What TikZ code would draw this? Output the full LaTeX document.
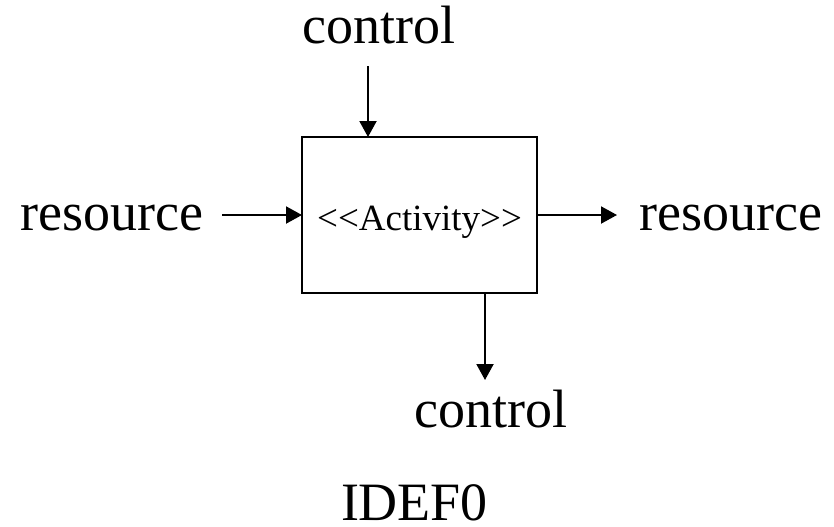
\documentclass[tikz,border=0pt]{standalone}
\usepackage{fontspec}
\setmainfont{Liberation Serif}
\usetikzlibrary{arrows.meta}

\tikzset{
  flow/.style={line width=1pt, -{Triangle[length=8pt,width=8.5pt]}},
  activitybox/.style={draw, line width=1pt, outer sep=0pt, inner sep=0pt,
    minimum width=117.5pt, minimum height=78pt,
    text height=15pt, text depth=0pt, font=\fontsize{18.5}{22}\selectfont},
  lbl/.style={anchor=base, inner sep=0pt, font=\fontsize{27}{32}\selectfont}
}

\begin{document}
\begin{tikzpicture}[x=0.5pt, y=-0.5pt]
  \useasboundingbox (0,0) rectangle (834,526);

  % the activity box (braces keep the angle brackets apart)
  \node[activitybox] (act) at (419.5,215) {<{}<Activity>{}>};

  % labels
  \node[lbl] (ctrlin)  at (379,43)  {control};
  \node[lbl] (resin)   at (112,230) {resource};
  \node[lbl] (resout)  at (731,230) {resource};
  \node[lbl] (ctrlout) at (491,427) {control};
  \node[lbl] (title)   at (414.5,520) {IDEF0};

  % free ends of the connectors
  \coordinate (ctop) at (368,66);
  \coordinate (rin)  at (222,215);
  \coordinate (rout) at (617,215);
  \coordinate (cbot) at (485,380);

  % connectors
  \draw[flow] (ctop) -- (ctop |- act.north);
  \draw[flow] (rin) -- (rin -| act.west);
  \draw[flow] (rout -| act.east) -- (rout);
  \draw[flow] (cbot |- act.south) -- (cbot);
\end{tikzpicture}
\end{document}
